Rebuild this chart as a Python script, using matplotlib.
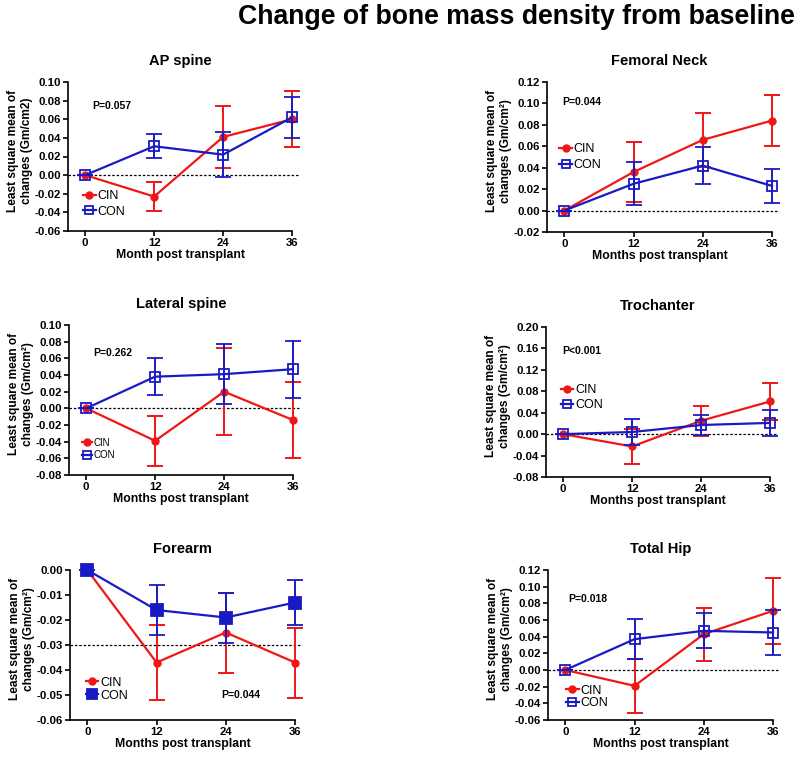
import matplotlib

matplotlib.use("Agg")
import matplotlib.pyplot as plt
from matplotlib.ticker import FormatStrFormatter
from matplotlib.lines import Line2D

plt.rcParams['font.family'] = ['Liberation Sans', 'DejaVu Sans']

RED = '#f01616'
BLUE = '#1a1ac4'

months = [0, 12, 24, 36]

# 数据：各部位骨密度相对基线的变化（最小二乘均值 ± 误差）
ap_cin = [0.0, -0.023, 0.041, 0.060]
ap_cin_err = [0.0, 0.016, 0.033, 0.030]
ap_con = [0.0, 0.031, 0.022, 0.062]
ap_con_err = [0.0, 0.013, 0.024, 0.022]

fn_cin = [0.0, 0.036, 0.066, 0.084]
fn_cin_err = [0.0, 0.028, 0.025, 0.024]
fn_con = [0.0, 0.025, 0.042, 0.023]
fn_con_err = [0.0, 0.020, 0.017, 0.016]

lat_cin = [0.0, -0.039, 0.020, -0.014]
lat_cin_err = [0.0, 0.030, 0.052, 0.046]
lat_con = [0.0, 0.038, 0.041, 0.047]
lat_con_err = [0.0, 0.022, 0.036, 0.034]

tro_cin = [0.0, -0.023, 0.025, 0.061]
tro_cin_err = [0.0, 0.033, 0.028, 0.034]
tro_con = [0.0, 0.004, 0.017, 0.021]
tro_con_err = [0.0, 0.024, 0.019, 0.024]

fa_cin = [0.0, -0.037, -0.025, -0.037]
fa_cin_err = [0.0, 0.015, 0.016, 0.014]
fa_con = [0.0, -0.016, -0.019, -0.013]
fa_con_err = [0.0, 0.010, 0.010, 0.009]

th_cin = [0.0, -0.019, 0.043, 0.071]
th_cin_err = [0.0, 0.032, 0.032, 0.040]
th_con = [0.0, 0.037, 0.047, 0.045]
th_con_err = [0.0, 0.024, 0.021, 0.027]

titles = ['AP spine', 'Femoral Neck', 'Lateral spine', 'Trochanter', 'Forearm', 'Total Hip']
p_texts = ['P=0.057', 'P=0.044', 'P=0.262', 'P<0.001', 'P=0.044', 'P=0.018']
xlabels = ['Month post transplant'] + ['Months post transplant'] * 5
ylabels = ['Least square mean of\nchanges (Gm/cm2)'] + ['Least square mean of\nchanges (Gm/cm²)'] * 5
ylims = [(-0.06, 0.10), (-0.02, 0.12), (-0.08, 0.10), (-0.08, 0.20), (-0.06, 0.0), (-0.06, 0.12)]
ysteps = [0.02, 0.02, 0.02, 0.04, 0.01, 0.02]
ref_lines = [0.0, 0.0, 0.0, 0.0, -0.03, 0.0]

series = [
    (ap_cin, ap_cin_err, ap_con, ap_con_err),
    (fn_cin, fn_cin_err, fn_con, fn_con_err),
    (lat_cin, lat_cin_err, lat_con, lat_con_err),
    (tro_cin, tro_cin_err, tro_con, tro_con_err),
    (fa_cin, fa_cin_err, fa_con, fa_con_err),
    (th_cin, th_cin_err, th_con, th_con_err),
]

# 版面：每个子图的像素位置 (左, 上, 宽, 高)
W, H = 800, 759
boxes = [(68, 82, 224, 149), (547, 82, 225, 150),
         (69, 325, 224, 150), (546, 327, 224, 150),
         (70, 570, 225, 150), (548, 570, 225, 150)]
p_pos = [(0.107, 0.839), (0.069, 0.867), (0.11, 0.811), (0.073, 0.838), (0.67, 0.164), (0.089, 0.809)]
leg_pos = [(0.068, 0.275), (0.055, 0.59), (0.059, 0.25), (0.065, 0.62), (0.071, 0.29), (0.08, 0.235)]
leg_size = [9, 9, 7, 9, 9, 9]
leg_space = [0.3, 0.3, 0.25, 0.25, 0.1, 0.05]

fig = plt.figure(figsize=(W / 100, H / 100), dpi=100)
fig.text(795 / W, 1 - 17 / H, 'Change of bone mass density from baseline',
         ha='right', va='center', fontsize=19.2, fontweight='bold')

for i in range(6):
    l, t, w, h = boxes[i]
    ax = fig.add_axes([l / W, 1 - (t + h) / H, w / W, h / H])
    cin, cin_err, con, con_err = series[i]
    ax.errorbar(months, cin, yerr=cin_err, color=RED, lw=1.6, marker='o', ms=5,
                capsize=6, capthick=1.4, elinewidth=1.4, clip_on=False, zorder=3)
    filled = (i == 4)
    ax.errorbar(months, con, yerr=con_err, color=BLUE, lw=1.6, marker='s',
                ms=7 if not filled else 8,
                mfc=BLUE if filled else 'none', mew=1.3,
                capsize=6, capthick=1.4, elinewidth=1.4, clip_on=False, zorder=4)
    ax.axhline(ref_lines[i], xmin=0, xmax=1.03, color='black', lw=0.9,
               ls=(0, (2, 1.5)), clip_on=False, zorder=2)

    ax.set_xlim(-3, 36)
    ax.set_ylim(*ylims[i])
    lo, hi = ylims[i]
    n = int(round((hi - lo) / ysteps[i]))
    ax.set_yticks([lo + k * ysteps[i] for k in range(n + 1)])
    ax.set_xticks(months)
    ax.yaxis.set_major_formatter(FormatStrFormatter('%.2f'))
    for s in ['top', 'right']:
        ax.spines[s].set_visible(False)
    for s in ['left', 'bottom']:
        ax.spines[s].set_linewidth(1.2)
    ax.tick_params(width=1.2, length=3.5, labelsize=8.2, pad=1.5)
    for lab in ax.get_xticklabels() + ax.get_yticklabels():
        lab.set_fontweight('bold')

    ax.set_title(titles[i], fontsize=10.5, fontweight='bold', pad=12)
    ax.set_xlabel(xlabels[i], fontsize=8.8, fontweight='bold', labelpad=1)
    ax.set_ylabel(ylabels[i], fontsize=8.6, fontweight='bold', labelpad=1,
                  linespacing=1.2)
    ax.yaxis.label.set_y(0.54)
    ax.text(p_pos[i][0], p_pos[i][1], p_texts[i], transform=ax.transAxes,
            ha='left', va='center', fontsize=7.5, fontweight='bold')

    handles = [
        Line2D([], [], color=RED, lw=1.6, marker='o', ms=5),
        Line2D([], [], color=BLUE, lw=1.6, marker='s', ms=6 if not filled else 6.5,
               mfc=BLUE if filled else 'none', mew=1.3),
    ]
    ax.legend(handles, ['CIN', 'CON'], loc='upper left', bbox_to_anchor=leg_pos[i],
              frameon=False, borderaxespad=0, borderpad=0, handlelength=1.0,
              handletextpad=0.15, labelspacing=leg_space[i], fontsize=leg_size[i])

fig.savefig('out.png', dpi=100)
plt.close(fig)
